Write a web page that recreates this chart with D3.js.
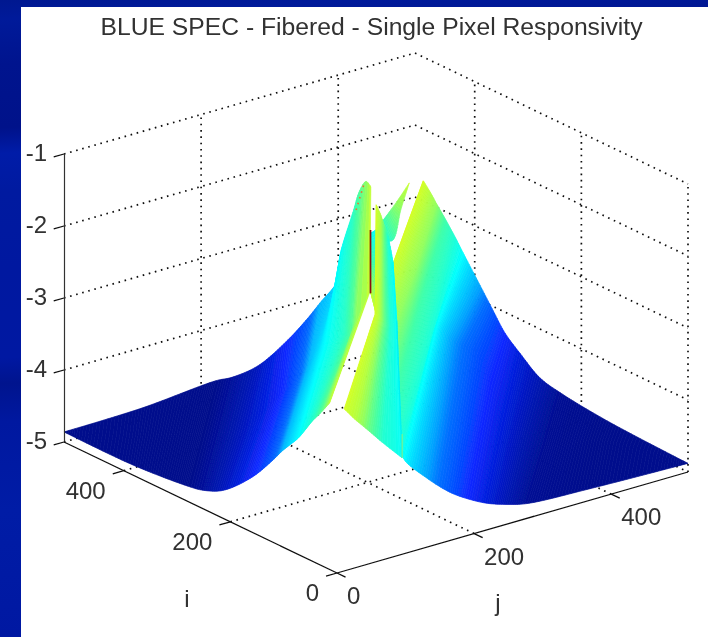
<!DOCTYPE html>
<html>
<head>
<meta charset="utf-8">
<title>BLUE SPEC - Fibered - Single Pixel Responsivity</title>
<script src="https://d3js.org/d3.v7.min.js"></script>
<style>
  html, body { margin: 0; padding: 0; background: #001aa0; overflow: hidden; }
  text { font-family: "Liberation Sans", Arial, sans-serif; fill: #303030; }
</style>
</head>
<body>
<div id="chart"></div>
<script>
  const title = "BLUE SPEC - Fibered - Single Pixel Responsivity"
  const zTicks = [-1, -2, -3, -4, -5]
  const iTicks = [0, 200, 400]
  const jTicks = [0, 200, 400]
  const gridI = [200, 400]
  const gridJ = [200, 400]

  // surface pieces: rows run bottom edge, middle, top edge
  const leftJ = [0, 0, 10, 20, 30, 40, 50, 60, 65, 70, 200, 220, 240, 250]
  const leftI = [
    [512, 383, 292, 277, 252, 211, 186, 180, 172, 163, 302, 315, 329, 335],
    [512, 373, 266, 249, 217, 158, 141, 131, 119, 113, 244, 258, 273, 260],
    [512, 366, 240, 223, 187, 147, 119, 109, 82, 84, 227, 240, 254, 258]]
  const leftZ = [
    [-4.86, -4.86, -4.86, -4.89, -4.83, -4.53, -4.24, -4.11, -4.01, -3.90, -4.50, -4.51, -4.52, -4.51],
    [-4.86, -4.41, -4.03, -3.99, -3.87, -3.20, -2.96, -2.74, -2.50, -2.43, -3.11, -3.21, -3.12, -2.71],
    [-4.86, -4.01, -3.21, -3.13, -2.87, -2.42, -2.02, -1.80, -1.40, -1.07, -1.34, -1.14, -1.12, -1.24]]
  const leftC = [0, 0, 0, .04, .12, .25, .35, .44, .47, .5, .6, .68, .8, 1]

  const lobeJ = [
    [300, 300, 295, 290, 270, 260, 250, 255, 260, 268, 280, 300, 380, 512],
    [300, 300, 295, 290, 270, 260, 250, 255, 260, 268, 290, 315, 400, 512],
    [300, 300, 295, 290, 270, 260, 250, 255, 260, 268, 300, 330, 400, 512]]
  const lobeI = [
    [281, 277, 267, 257, 225, 209, 153, 116, 90, 63, 41, 29, 14, 0],
    [253, 245, 229, 217, 173, 147, 106, 69, 47, 29, 20, 15, 21, 0],
    [224, 211, 192, 170, 122, 98, 53, 35, 19, 1, 5, 6, 8, 0]]
  const lobeZ = [
    [-2.53, -2.89, -3.26, -4.02, -4.78, -4.87, -4.91, -4.99, -5, -4.99, -4.96, -4.96, -4.92, -4.88],
    [-1.86, -2.08, -2.36, -2.79, -3.20, -2.80, -2.83, -2.86, -3.21, -3.72, -3.89, -4.15, -4.33, -4.88],
    [-1.17, -1.28, -1.37, -1.48, -1.56, -1.61, -1.88, -2.18, -2.45, -2.69, -3.13, -3.42, -4.01, -4.88]]
  const lobeC = [1, .9, .8, .65, .55, .5, .42, .33, .25, .17, .09, .02, 0, 0]

  const spikeJ = [250, 255, 260, 265, 270]
  const spikeI = [
    [308, 294, 276, 256, 225],
    [250, 249, 246, 241, 235],
    [248, 247, 246, 245, 242]]
  const spikeZ = [
    [-4.50, -4.61, -4.71, -4.82, -4.94],
    [-2.98, -3.01, -3.09, -3.15, -3.07],
    [-1.45, -1.58, -1.75, -1.92, -2.29]]
  const spikeC = [1, .9, .72, .58, .5]

  const wedgeJ = [260, 265, 270, 275]
  const wedgeI = [
    [261, 238, 227, 218],
    [261, 245, 233, 218],
    [263, 255, 238, 218]]
  const wedgeZ = [
    [-1.96, -1.96, -1.49, -1.11],
    [-1.92, -1.88, -1.48, -1.11],
    [-1.90, -1.74, -1.46, -1.11]]
  const wedgeC = [.55, .62, .8, 1]

  const sliverJ = [250, 250, 250]
  const sliverI = [
    [258, 258, 258],
    [248, 248, 248]]
  const sliverZ = [
    [-1.88, -2.30, -2.71],
    [-1.80, -2.26, -2.97]]
  const sliverC = [.5, .65, .95]

  // thin lines on the surface
  const redLineI = [258.6, 258.6]
  const redLineJ = [250, 250]
  const redLineZ = [-1.84, -2.72]
  const orangeI = [247, 232]
  const orangeJ = [220, 220]
  const orangeZ = [-1.44, -1.02]
  const seamI = [235, 225]
  const seamJ = [270, 270]
  const seamZ = [-3.07, -4.94]
  const greenI = [225, 225]
  const greenJ = [270, 270]
  const greenZ = [-4.61, -4.94]

  const colorLevels = [0, .09, .25, .38, .5, .65, .8, 1]
  const colorValues = ["#00108c", "#0014b0", "#0a28ff", "#0070ff", "#00ffff", "#40ffa8", "#90ff60", "#d8ff20"]
  const bgOffsets = [0, .03, .1, .2, .24, .3, .42, .56, .6, .66, .8, 1]
  const bgColors = ["#001890", "#001a9a", "#00148e", "#00128a", "#001ca8", "#001aa0", "#0018a0", "#0018a2", "#00148e", "#0018a0", "#001ca6", "#0018a2"]

  const W = 708, H = 637
  const levelColor = d3.scaleLinear().domain(colorLevels).range(colorValues).clamp(true)

  // oblique axes: i runs to the left corner, j to the right corner, z is lifted straight up
  const iX = d3.scaleLinear().domain([0, 512]).range([0, -273])
  const iY = d3.scaleLinear().domain([0, 512]).range([0, -131])
  const jX = d3.scaleLinear().domain([0, 512]).range([337, 688])
  const jY = d3.scaleLinear().domain([0, 512]).range([573, 472])
  const zY = d3.scaleLinear().domain([-5, -1]).range([441, 153])

  function proj(i, j, z) {
    return [iX(i) + jX(j), iY(i) + jY(j) + zY(z) - zY(-5)]
  }

  const svg = d3.select("#chart").append("svg")
    .attr("width", W).attr("height", H)
    .style("display", "block")
  const defs = svg.append("defs")

  const bg = defs.append("linearGradient").attr("id", "bg")
    .attr("x1", 0).attr("y1", 0).attr("x2", 0.06).attr("y2", 1)
  bg.selectAll("stop").data(bgOffsets).join("stop")
    .attr("offset", d => d)
    .attr("stop-color", (d, k) => bgColors[k])
  svg.append("rect").attr("width", W).attr("height", H).attr("fill", "url(#bg)")
  svg.append("rect").attr("x", 21).attr("y", 7).attr("width", W - 21).attr("height", H - 7).attr("fill", "#fff")

  const soft = defs.append("filter").attr("id", "soft")
    .attr("filterUnits", "userSpaceOnUse")
    .attr("x", 0).attr("y", 0).attr("width", W).attr("height", H)
  soft.append("feGaussianBlur").attr("stdDeviation", 0.45)

  const flame = svg.append("g").attr("filter", "url(#soft)")
  const line = d3.line()

  //grid on the walls and the floor
  const gridSegs = []
  zTicks.forEach(z => {
    gridSegs.push([proj(512, 0, z), proj(512, 512, z)])
    gridSegs.push([proj(512, 512, z), proj(0, 512, z)])
  })
  gridJ.forEach(j => {
    gridSegs.push([proj(512, j, -5), proj(512, j, -1)])
    gridSegs.push([proj(0, j, -5), proj(512, j, -5)])
  })
  gridI.forEach(i => {
    gridSegs.push([proj(i, 512, -5), proj(i, 512, -1)])
    gridSegs.push([proj(i, 0, -5), proj(i, 512, -5)])
  })
  gridSegs.push([proj(0, 512, -5), proj(0, 512, -1)])
  flame.append("g").selectAll("path").data(gridSegs).join("path")
    .attr("d", d => line(d))
    .attr("fill", "none")
    .attr("stroke", "#111")
    .attr("stroke-width", 1.7)
    .attr("stroke-dasharray", "1.6,4.7")

  //surface: shaded between the read columns, smooth along each row
  function hermite(p0, p1, p2, p3, t) {
    const gap = (a, b) => Math.max(Math.sqrt(Math.hypot(b[0] - a[0], b[1] - a[1])), 1e-4)
    const d0 = gap(p0, p1), d1 = gap(p1, p2), d2 = gap(p2, p3)
    return [0, 1].map(k => {
      const m1 = ((p1[k] - p0[k]) / d0 - (p2[k] - p0[k]) / (d0 + d1) + (p2[k] - p1[k]) / d1) * d1
      const m2 = ((p2[k] - p1[k]) / d1 - (p3[k] - p1[k]) / (d1 + d2) + (p3[k] - p2[k]) / d2) * d1
      const t2 = t * t, t3 = t2 * t
      return (2 * t3 - 3 * t2 + 1) * p1[k] + (t3 - 2 * t2 + t) * m1 + (-2 * t3 + 3 * t2) * p2[k] + (t3 - t2) * m2
    })
  }
  function drawPiece(I, J, Z, C) {
    const g = flame.append("g")
    const pts = I.map((row, r) => row.map((v, c) => proj(v, J[r][c], Z[r][c])))
    const nRows = I.length, nCols = C.length
    const at = (r, c, t) => {
      const p = k => pts[r][Math.max(0, Math.min(nCols - 1, k))]
      return hermite(p(c - 1), p(c), p(c + 1), p(c + 2), t)
    }
    const strips = []
    for (let c = 0; c < nCols - 1; c++) {
      const m0 = pts[nRows - 1][c], m1 = pts[nRows - 1][c + 1], b0 = pts[0][c], b1 = pts[0][c + 1]
      const dist = Math.max(Math.hypot(m1[0] - m0[0], m1[1] - m0[1]), Math.hypot(b1[0] - b0[0], b1[1] - b0[1]))
      const steps = Math.max(2, Math.ceil(dist / 3))
      for (let s = 0; s < steps; s++) {
        const t0 = s / steps, t1 = (s + 1) / steps
        const a = d3.range(nRows).map(r => at(r, c, t0))
        const b = d3.range(nRows).map(r => at(r, c, t1)).reverse()
        strips.push({ poly: a.concat(b), level: C[c] + (C[c + 1] - C[c]) * t0 })
      }
    }
    g.selectAll("path").data(strips).join("path")
      .attr("d", d => line(d.poly) + "Z")
      .attr("fill", d => levelColor(d.level))
      .attr("stroke", d => levelColor(d.level))
      .attr("stroke-width", 0.7)
  }
  const rep = (a, n) => d3.range(n).map(() => a)
  drawPiece(leftI, rep(leftJ, 3), leftZ, leftC)
  drawPiece(sliverI, rep(sliverJ, 2), sliverZ, sliverC)
  drawPiece(wedgeI, rep(wedgeJ, 3), wedgeZ, wedgeC)
  drawPiece(lobeI, lobeJ, lobeZ, lobeC)
  drawPiece(spikeI, rep(spikeJ, 3), spikeZ, spikeC)

  function drawThin(I, J, Z, color, w, dash) {
    flame.append("path")
      .attr("d", line(I.map((v, k) => proj(v, J[k], Z[k]))))
      .attr("fill", "none")
      .attr("stroke", color)
      .attr("stroke-width", w)
      .attr("stroke-dasharray", dash)
  }
  drawThin(seamI, seamJ, seamZ, "#00f0f0", 1, null)
  drawThin(greenI, greenJ, greenZ, "#90f080", 1, null)
  drawThin(redLineI, redLineJ, redLineZ, "#8b0808", 1.7, null)
  drawThin(orangeI, orangeJ, orangeZ, "#f07030", 1.6, "1.6,4.4")

  //axes
  const zAxis = d3.axisLeft(zY).tickValues(zTicks).tickSize(0).tickPadding(17).tickFormat(d => d)
  const zg = flame.append("g").attr("transform", "translate(64,0)").call(zAxis)
  zg.select(".domain").attr("stroke", "#333").attr("stroke-width", 1.2)
  zg.selectAll("text").attr("font-size", 24).attr("font-family", null)

  const axisSegs = [[proj(512, 0, -5), proj(0, 0, -5)], [proj(0, 0, -5), proj(0, 512, -5)]]
  iTicks.forEach(i => axisSegs.push([proj(i, 0, -5), proj(i, -16, -5)]))
  jTicks.forEach(j => axisSegs.push([proj(0, j, -5), proj(-16, j, -5)]))
  zTicks.forEach(z => axisSegs.push([proj(512, 0, z), proj(512, -15, z)]))
  flame.append("g").selectAll("path").data(axisSegs).join("path")
    .attr("d", d => line(d))
    .attr("fill", "none")
    .attr("stroke", "#111")
    .attr("stroke-width", 1.3)

  flame.append("g").selectAll("text").data(iTicks).join("text")
    .attr("x", d => proj(d, 0, -5)[0] - 18)
    .attr("y", d => proj(d, 0, -5)[1] + 28)
    .attr("text-anchor", "end")
    .attr("font-size", 24)
    .text(d => d)
  flame.append("g").selectAll("text").data(jTicks).join("text")
    .attr("x", d => proj(0, d, -5)[0] + 10)
    .attr("y", d => proj(0, d, -5)[1] + 31)
    .attr("font-size", 24)
    .text(d => d)

  flame.append("text").attr("x", 187).attr("y", 607)
    .attr("text-anchor", "middle").attr("font-size", 24).text("i")
  flame.append("text").attr("x", 498).attr("y", 611)
    .attr("text-anchor", "middle").attr("font-size", 24).text("j")
  flame.append("text").attr("x", 371.5).attr("y", 35)
    .attr("text-anchor", "middle").attr("font-size", 24.7).text(title)
</script>
</body>
</html>
